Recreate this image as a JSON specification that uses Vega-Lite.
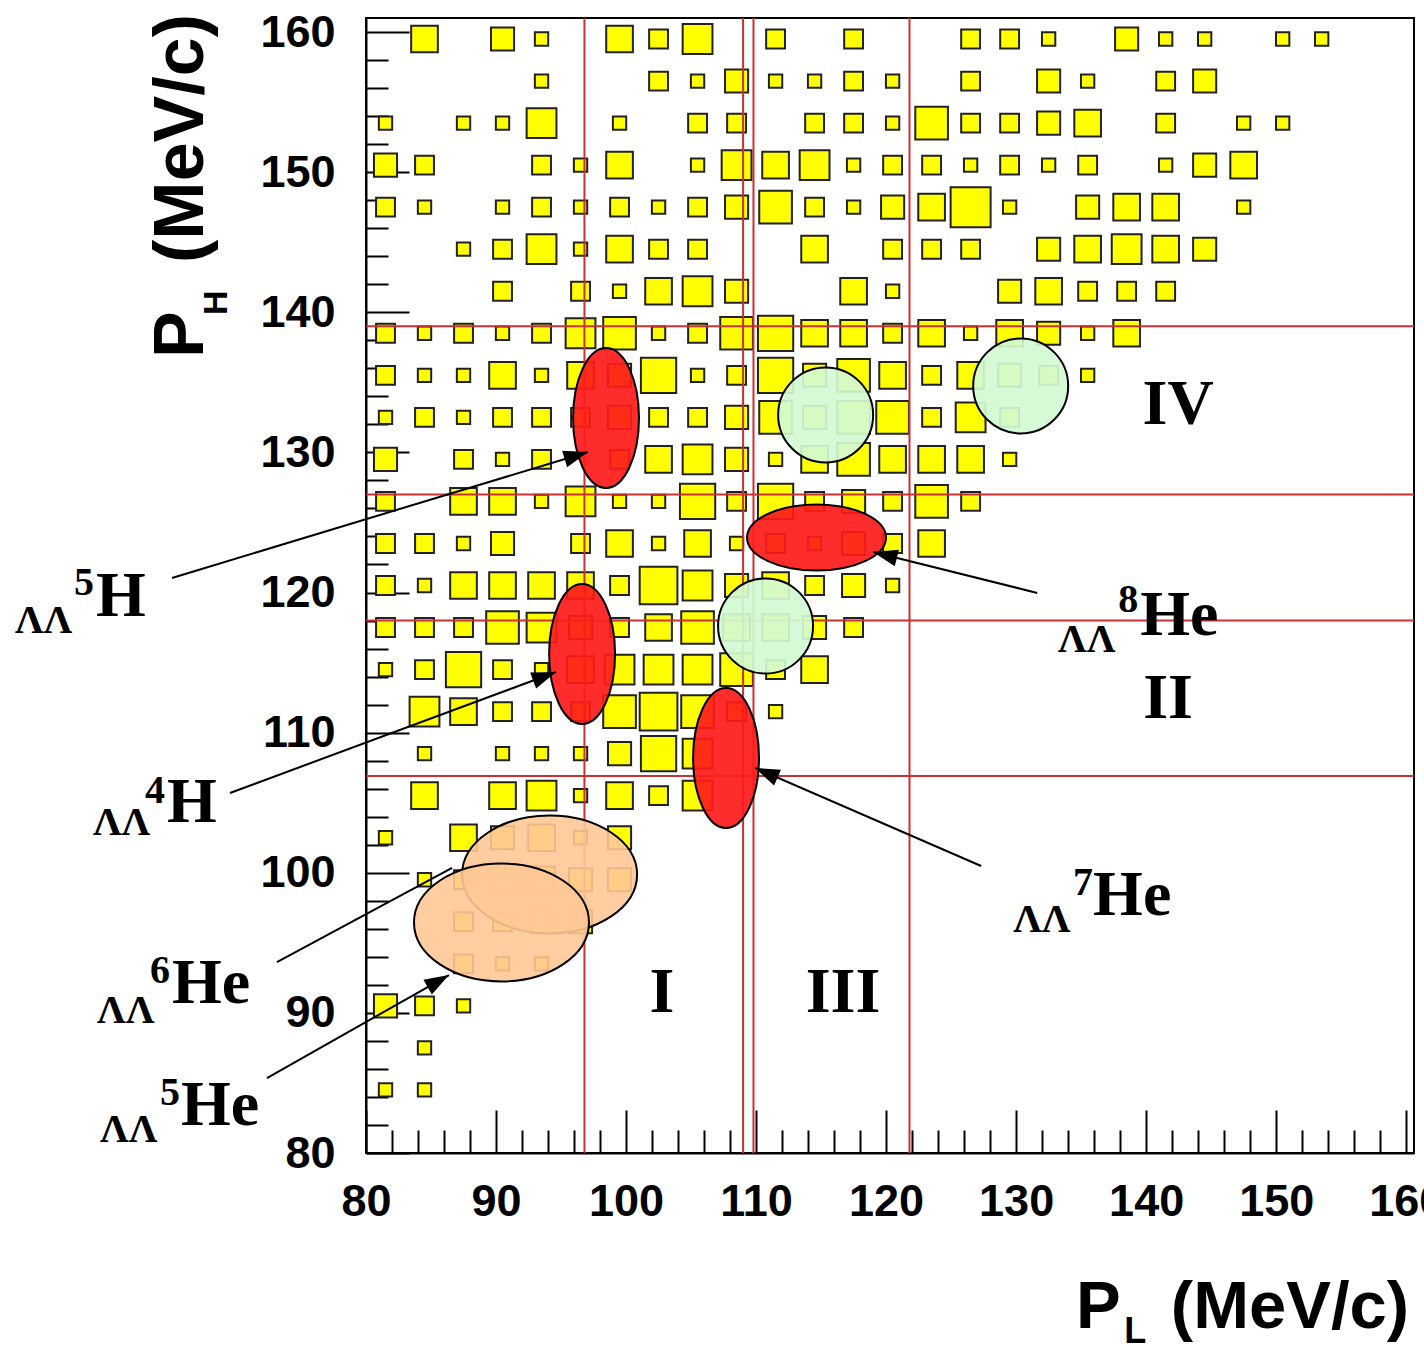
{
  "$schema": "https://vega.github.io/schema/vega-lite/v6.json",
  "width": 1048,
  "height": 1135,
  "autosize": {"type": "none"},
  "padding": {"left": 366, "top": 18, "right": 10, "bottom": 193},
  "background": "white",
  "config": {"view": {"stroke": "black", "strokeWidth": 2}, "font": "Liberation Sans"},
  "datasets": {
    "boxes": [
      {"x":84.5,"y":159.5,"n":4},{"x":90.5,"y":159.5,"n":3},{"x":93.5,"y":159.5,"n":1},{"x":99.5,"y":159.5,"n":4},{"x":102.5,"y":159.5,"n":2},{"x":105.5,"y":159.5,"n":5},{"x":111.5,"y":159.5,"n":2},{"x":117.5,"y":159.5,"n":2},{"x":126.5,"y":159.5,"n":2},{"x":129.5,"y":159.5,"n":2},{"x":132.5,"y":159.5,"n":1},{"x":138.5,"y":159.5,"n":3},{"x":141.5,"y":159.5,"n":1},{"x":144.5,"y":159.5,"n":1},{"x":150.5,"y":159.5,"n":1},{"x":153.5,"y":159.5,"n":1},
      {"x":93.5,"y":156.5,"n":1},{"x":102.5,"y":156.5,"n":2},{"x":105.5,"y":156.5,"n":1},{"x":108.5,"y":156.5,"n":3},{"x":111.5,"y":156.5,"n":1},{"x":114.5,"y":156.5,"n":1},{"x":117.5,"y":156.5,"n":2},{"x":120.5,"y":156.5,"n":1},{"x":126.5,"y":156.5,"n":2},{"x":132.5,"y":156.5,"n":3},{"x":135.5,"y":156.5,"n":1},{"x":141.5,"y":156.5,"n":2},{"x":144.5,"y":156.5,"n":3},
      {"x":81.5,"y":153.5,"n":1},{"x":87.5,"y":153.5,"n":1},{"x":90.5,"y":153.5,"n":1},{"x":93.5,"y":153.5,"n":5},{"x":99.5,"y":153.5,"n":1},{"x":105.5,"y":153.5,"n":2},{"x":108.5,"y":153.5,"n":2},{"x":114.5,"y":153.5,"n":2},{"x":117.5,"y":153.5,"n":2},{"x":120.5,"y":153.5,"n":1},{"x":123.5,"y":153.5,"n":6},{"x":126.5,"y":153.5,"n":2},{"x":129.5,"y":153.5,"n":2},{"x":132.5,"y":153.5,"n":3},{"x":135.5,"y":153.5,"n":4},{"x":141.5,"y":153.5,"n":2},{"x":147.5,"y":153.5,"n":1},{"x":150.5,"y":153.5,"n":1},
      {"x":81.5,"y":150.5,"n":3},{"x":84.5,"y":150.5,"n":2},{"x":93.5,"y":150.5,"n":2},{"x":96.5,"y":150.5,"n":1},{"x":99.5,"y":150.5,"n":4},{"x":105.5,"y":150.5,"n":1},{"x":108.5,"y":150.5,"n":5},{"x":111.5,"y":150.5,"n":4},{"x":114.5,"y":150.5,"n":5},{"x":117.5,"y":150.5,"n":1},{"x":120.5,"y":150.5,"n":2},{"x":123.5,"y":150.5,"n":2},{"x":126.5,"y":150.5,"n":1},{"x":129.5,"y":150.5,"n":2},{"x":132.5,"y":150.5,"n":1},{"x":135.5,"y":150.5,"n":2},{"x":141.5,"y":150.5,"n":1},{"x":144.5,"y":150.5,"n":3},{"x":147.5,"y":150.5,"n":4},
      {"x":81.5,"y":147.5,"n":2},{"x":84.5,"y":147.5,"n":1},{"x":90.5,"y":147.5,"n":1},{"x":93.5,"y":147.5,"n":2},{"x":96.5,"y":147.5,"n":1},{"x":99.5,"y":147.5,"n":2},{"x":102.5,"y":147.5,"n":1},{"x":105.5,"y":147.5,"n":2},{"x":108.5,"y":147.5,"n":3},{"x":111.5,"y":147.5,"n":6},{"x":114.5,"y":147.5,"n":2},{"x":117.5,"y":147.5,"n":1},{"x":120.5,"y":147.5,"n":3},{"x":123.5,"y":147.5,"n":4},{"x":126.5,"y":147.5,"n":9},{"x":129.5,"y":147.5,"n":1},{"x":135.5,"y":147.5,"n":3},{"x":138.5,"y":147.5,"n":4},{"x":141.5,"y":147.5,"n":4},{"x":147.5,"y":147.5,"n":1},
      {"x":87.5,"y":144.5,"n":1},{"x":90.5,"y":144.5,"n":2},{"x":93.5,"y":144.5,"n":5},{"x":96.5,"y":144.5,"n":1},{"x":99.5,"y":144.5,"n":4},{"x":102.5,"y":144.5,"n":2},{"x":105.5,"y":144.5,"n":2},{"x":114.5,"y":144.5,"n":4},{"x":120.5,"y":144.5,"n":2},{"x":123.5,"y":144.5,"n":2},{"x":126.5,"y":144.5,"n":2},{"x":132.5,"y":144.5,"n":3},{"x":135.5,"y":144.5,"n":4},{"x":138.5,"y":144.5,"n":5},{"x":141.5,"y":144.5,"n":4},{"x":144.5,"y":144.5,"n":3},
      {"x":90.5,"y":141.5,"n":2},{"x":96.5,"y":141.5,"n":2},{"x":99.5,"y":141.5,"n":1},{"x":102.5,"y":141.5,"n":4},{"x":105.5,"y":141.5,"n":5},{"x":108.5,"y":141.5,"n":3},{"x":117.5,"y":141.5,"n":4},{"x":120.5,"y":141.5,"n":1},{"x":129.5,"y":141.5,"n":3},{"x":132.5,"y":141.5,"n":4},{"x":135.5,"y":141.5,"n":2},{"x":138.5,"y":141.5,"n":2},{"x":141.5,"y":141.5,"n":2},
      {"x":81.5,"y":138.5,"n":2},{"x":84.5,"y":138.5,"n":1},{"x":87.5,"y":138.5,"n":2},{"x":90.5,"y":138.5,"n":1},{"x":93.5,"y":138.5,"n":2},{"x":96.5,"y":138.5,"n":5},{"x":99.5,"y":138.5,"n":6},{"x":102.5,"y":138.5,"n":1},{"x":105.5,"y":138.5,"n":2},{"x":108.5,"y":138.5,"n":6},{"x":111.5,"y":138.5,"n":7},{"x":114.5,"y":138.5,"n":4},{"x":117.5,"y":138.5,"n":4},{"x":120.5,"y":138.5,"n":2},{"x":123.5,"y":138.5,"n":4},{"x":126.5,"y":138.5,"n":1},{"x":129.5,"y":138.5,"n":4},{"x":132.5,"y":138.5,"n":3},{"x":135.5,"y":138.5,"n":1},{"x":138.5,"y":138.5,"n":4},
      {"x":81.5,"y":135.5,"n":2},{"x":84.5,"y":135.5,"n":1},{"x":87.5,"y":135.5,"n":1},{"x":90.5,"y":135.5,"n":4},{"x":93.5,"y":135.5,"n":1},{"x":96.5,"y":135.5,"n":4},{"x":99.5,"y":135.5,"n":3},{"x":102.5,"y":135.5,"n":7},{"x":105.5,"y":135.5,"n":1},{"x":108.5,"y":135.5,"n":2},{"x":111.5,"y":135.5,"n":7},{"x":114.5,"y":135.5,"n":3},{"x":117.5,"y":135.5,"n":6},{"x":120.5,"y":135.5,"n":4},{"x":123.5,"y":135.5,"n":2},{"x":126.5,"y":135.5,"n":4},{"x":129.5,"y":135.5,"n":3},{"x":132.5,"y":135.5,"n":2},{"x":135.5,"y":135.5,"n":1},
      {"x":81.5,"y":132.5,"n":1},{"x":84.5,"y":132.5,"n":2},{"x":87.5,"y":132.5,"n":1},{"x":90.5,"y":132.5,"n":2},{"x":93.5,"y":132.5,"n":2},{"x":96.5,"y":132.5,"n":2},{"x":99.5,"y":132.5,"n":3},{"x":102.5,"y":132.5,"n":2},{"x":105.5,"y":132.5,"n":2},{"x":108.5,"y":132.5,"n":3},{"x":111.5,"y":132.5,"n":6},{"x":114.5,"y":132.5,"n":3},{"x":117.5,"y":132.5,"n":6},{"x":120.5,"y":132.5,"n":6},{"x":123.5,"y":132.5,"n":2},{"x":126.5,"y":132.5,"n":5},{"x":129.5,"y":132.5,"n":2},
      {"x":81.5,"y":129.5,"n":3},{"x":87.5,"y":129.5,"n":2},{"x":90.5,"y":129.5,"n":1},{"x":93.5,"y":129.5,"n":2},{"x":99.5,"y":129.5,"n":2},{"x":102.5,"y":129.5,"n":4},{"x":105.5,"y":129.5,"n":5},{"x":108.5,"y":129.5,"n":3},{"x":111.5,"y":129.5,"n":1},{"x":114.5,"y":129.5,"n":4},{"x":117.5,"y":129.5,"n":6},{"x":120.5,"y":129.5,"n":4},{"x":123.5,"y":129.5,"n":4},{"x":126.5,"y":129.5,"n":4},{"x":129.5,"y":129.5,"n":1},
      {"x":81.5,"y":126.5,"n":2},{"x":87.5,"y":126.5,"n":4},{"x":90.5,"y":126.5,"n":4},{"x":93.5,"y":126.5,"n":1},{"x":96.5,"y":126.5,"n":5},{"x":99.5,"y":126.5,"n":1},{"x":102.5,"y":126.5,"n":1},{"x":105.5,"y":126.5,"n":7},{"x":108.5,"y":126.5,"n":2},{"x":111.5,"y":126.5,"n":7},{"x":114.5,"y":126.5,"n":2},{"x":117.5,"y":126.5,"n":3},{"x":120.5,"y":126.5,"n":2},{"x":123.5,"y":126.5,"n":6},{"x":126.5,"y":126.5,"n":2},
      {"x":81.5,"y":123.5,"n":2},{"x":84.5,"y":123.5,"n":2},{"x":87.5,"y":123.5,"n":1},{"x":90.5,"y":123.5,"n":3},{"x":96.5,"y":123.5,"n":2},{"x":99.5,"y":123.5,"n":4},{"x":102.5,"y":123.5,"n":1},{"x":105.5,"y":123.5,"n":4},{"x":108.5,"y":123.5,"n":1},{"x":111.5,"y":123.5,"n":2},{"x":114.5,"y":123.5,"n":1},{"x":117.5,"y":123.5,"n":3},{"x":120.5,"y":123.5,"n":2},{"x":123.5,"y":123.5,"n":4},
      {"x":81.5,"y":120.5,"n":2},{"x":84.5,"y":120.5,"n":1},{"x":87.5,"y":120.5,"n":4},{"x":90.5,"y":120.5,"n":4},{"x":93.5,"y":120.5,"n":4},{"x":96.5,"y":120.5,"n":4},{"x":99.5,"y":120.5,"n":2},{"x":102.5,"y":120.5,"n":8},{"x":105.5,"y":120.5,"n":5},{"x":108.5,"y":120.5,"n":3},{"x":111.5,"y":120.5,"n":4},{"x":114.5,"y":120.5,"n":2},{"x":117.5,"y":120.5,"n":3},{"x":120.5,"y":120.5,"n":1},
      {"x":81.5,"y":117.5,"n":2},{"x":84.5,"y":117.5,"n":2},{"x":87.5,"y":117.5,"n":2},{"x":90.5,"y":117.5,"n":6},{"x":93.5,"y":117.5,"n":5},{"x":96.5,"y":117.5,"n":3},{"x":99.5,"y":117.5,"n":2},{"x":102.5,"y":117.5,"n":4},{"x":105.5,"y":117.5,"n":6},{"x":108.5,"y":117.5,"n":4},{"x":111.5,"y":117.5,"n":4},{"x":114.5,"y":117.5,"n":3},{"x":117.5,"y":117.5,"n":2},
      {"x":81.5,"y":114.5,"n":1},{"x":84.5,"y":114.5,"n":2},{"x":87.5,"y":114.5,"n":7},{"x":90.5,"y":114.5,"n":2},{"x":93.5,"y":114.5,"n":1},{"x":96.5,"y":114.5,"n":4},{"x":99.5,"y":114.5,"n":5},{"x":102.5,"y":114.5,"n":5},{"x":105.5,"y":114.5,"n":5},{"x":108.5,"y":114.5,"n":6},{"x":111.5,"y":114.5,"n":2},{"x":114.5,"y":114.5,"n":4},
      {"x":84.5,"y":111.5,"n":5},{"x":87.5,"y":111.5,"n":4},{"x":90.5,"y":111.5,"n":2},{"x":93.5,"y":111.5,"n":2},{"x":96.5,"y":111.5,"n":2},{"x":99.5,"y":111.5,"n":6},{"x":102.5,"y":111.5,"n":8},{"x":105.5,"y":111.5,"n":6},{"x":108.5,"y":111.5,"n":2},{"x":111.5,"y":111.5,"n":1},
      {"x":84.5,"y":108.5,"n":1},{"x":90.5,"y":108.5,"n":1},{"x":93.5,"y":108.5,"n":1},{"x":96.5,"y":108.5,"n":1},{"x":99.5,"y":108.5,"n":3},{"x":102.5,"y":108.5,"n":7},{"x":105.5,"y":108.5,"n":5},
      {"x":84.5,"y":105.5,"n":4},{"x":90.5,"y":105.5,"n":4},{"x":93.5,"y":105.5,"n":5},{"x":96.5,"y":105.5,"n":1},{"x":99.5,"y":105.5,"n":4},{"x":102.5,"y":105.5,"n":2},{"x":105.5,"y":105.5,"n":5},
      {"x":81.5,"y":102.5,"n":1},{"x":87.5,"y":102.5,"n":4},{"x":90.5,"y":102.5,"n":3},{"x":93.5,"y":102.5,"n":4},{"x":96.5,"y":102.5,"n":1},{"x":99.5,"y":102.5,"n":3},
      {"x":84.5,"y":99.5,"n":1},{"x":87.5,"y":99.5,"n":2},{"x":90.5,"y":99.5,"n":3},{"x":93.5,"y":99.5,"n":4},{"x":96.5,"y":99.5,"n":3},{"x":99.5,"y":99.5,"n":3},
      {"x":87.5,"y":96.5,"n":2},{"x":90.5,"y":96.5,"n":2},{"x":93.5,"y":96.5,"n":3},{"x":96.5,"y":96.5,"n":3},
      {"x":87.5,"y":93.5,"n":2},{"x":90.5,"y":93.5,"n":1},{"x":93.5,"y":93.5,"n":1},
      {"x":81.5,"y":90.5,"n":3},{"x":84.5,"y":90.5,"n":2},{"x":87.5,"y":90.5,"n":1},
      {"x":84.5,"y":87.5,"n":1},
      {"x":81.5,"y":84.5,"n":1},{"x":84.5,"y":84.5,"n":1}
    ],
    "cuts": [
      {"x":96.8,"y":80,"x2":96.8,"y2":161},
      {"x":109.0,"y":80,"x2":109.0,"y2":161},
      {"x":109.8,"y":80,"x2":109.8,"y2":161},
      {"x":121.8,"y":80,"x2":121.8,"y2":161},
      {"x":80,"y":139.0,"x2":160.6,"y2":139.0},
      {"x":80,"y":127.0,"x2":160.6,"y2":127.0},
      {"x":80,"y":118.0,"x2":160.6,"y2":118.0},
      {"x":80,"y":106.9,"x2":160.6,"y2":106.9}
    ],
    "orange": [{"x":94.12,"y":99.88},{"x":90.42,"y":96.45}],
    "redV": [{"x":98.46,"y":132.45},{"x":96.62,"y":115.61},{"x":107.69,"y":108.19}],
    "redH": [{"x":114.65,"y":123.93}],
    "green": [{"x":115.35,"y":132.67},{"x":110.73,"y":117.61},{"x":130.35,"y":134.74}],
    "arrows": [
      {"x":65.08,"y":121.04,"x2":97.08,"y2":130.03},
      {"x":69.54,"y":105.69,"x2":94.62,"y2":114.33},
      {"x":73.15,"y":93.63,"x2":86.62,"y2":100.34},
      {"x":72.38,"y":85.35,"x2":86.38,"y2":92.7},
      {"x":131.62,"y":119.97,"x2":119.0,"y2":122.89},
      {"x":127.31,"y":100.48,"x2":109.92,"y2":107.48}
    ],
    "lambda": [
      {"x":53.0,"y":117.11,"t":"ΛΛ"},
      {"x":59.0,"y":102.69,"t":"ΛΛ"},
      {"x":59.31,"y":89.28,"t":"ΛΛ"},
      {"x":59.54,"y":80.79,"t":"ΛΛ"},
      {"x":133.23,"y":115.76,"t":"ΛΛ"},
      {"x":129.77,"y":95.77,"t":"ΛΛ"}
    ],
    "sup": [
      {"x":57.54,"y":119.82,"t":"5"},
      {"x":63.0,"y":104.98,"t":"4"},
      {"x":63.38,"y":92.13,"t":"6"},
      {"x":64.15,"y":83.43,"t":"5"},
      {"x":137.85,"y":118.61,"t":"8"},
      {"x":134.38,"y":98.41,"t":"7"}
    ],
    "nucl": [
      {"x":59.23,"y":118.32,"t":"H"},
      {"x":64.69,"y":103.62,"t":"H"},
      {"x":65.08,"y":90.71,"t":"He"},
      {"x":65.77,"y":82.0,"t":"He"},
      {"x":139.54,"y":116.97,"t":"He"},
      {"x":135.92,"y":96.99,"t":"He"}
    ],
    "regions": [
      {"x":102.77,"y":90.06,"t":"I"},
      {"x":116.69,"y":90.06,"t":"III"},
      {"x":141.69,"y":111.04,"t":"II"},
      {"x":142.46,"y":132.03,"t":"IV"}
    ],
    "ytitle": [{"x":67.46,"y":136.74,"t":"P"},{"x":67.46,"y":143.52,"t":"(MeV/c)"}],
    "ytitlesub": [{"x":69.31,"y":139.81,"t":"H"}],
    "xtitle": [{"x":134.6,"y":67.51,"t":"P"},{"x":141.9,"y":67.51,"t":"(MeV/c)"}],
    "xtitlesub": [{"x":138.31,"y":66.44,"t":"L"}]
  },
  "encoding": {
    "x": {
      "field": "x", "type": "quantitative", "title": null,
      "scale": {"domain": [80, 160.6], "nice": false, "zero": false},
      "axis": {
        "values": [80,82,84,86,88,90,92,94,96,98,100,102,104,106,108,110,112,114,116,118,120,122,124,126,128,130,132,134,136,138,140,142,144,146,148,150,152,154,156,158,160],
        "labelExpr": "datum.value % 10 === 0 ? datum.label : ''",
        "tickSize": {"condition": {"test": "datum.value % 10 === 0", "value": -43}, "value": -23},
        "tickColor": "black", "tickWidth": 2,
        "domainColor": "black", "domainWidth": 2,
        "labelFont": "Liberation Sans", "labelFontWeight": "bold", "labelFontSize": 45, "labelColor": "black",
        "labelPadding": 69, "labelFlush": false, "labelOverlap": false, "labelBound": false, "grid": false
      }
    },
    "y": {
      "field": "y", "type": "quantitative", "title": null,
      "scale": {"domain": [80, 161], "nice": false, "zero": false},
      "axis": {
        "values": [80,82,84,86,88,90,92,94,96,98,100,102,104,106,108,110,112,114,116,118,120,122,124,126,128,130,132,134,136,138,140,142,144,146,148,150,152,154,156,158,160],
        "labelExpr": "datum.value % 10 === 0 ? datum.label : ''",
        "tickSize": {"condition": {"test": "datum.value % 10 === 0", "value": -43}, "value": -22},
        "tickColor": "black", "tickWidth": 2,
        "domainColor": "black", "domainWidth": 2,
        "labelFont": "Liberation Sans", "labelFontWeight": "bold", "labelFontSize": 45, "labelColor": "black",
        "labelPadding": 74, "labelFlush": false, "labelOverlap": false, "labelBound": false, "grid": false
      }
    }
  },
  "layer": [
    {
      "data": {"name": "boxes"},
      "mark": {"type": "point", "shape": "square", "filled": true, "fill": "#ffff00", "stroke": "#222222", "strokeWidth": 2, "opacity": 1},
      "encoding": {
        "size": {"field": "n", "type": "quantitative", "scale": {"domain": [0, 9], "range": [0, 1600]}, "legend": null}
      }
    },
    {
      "data": {"name": "cuts"},
      "mark": {"type": "rule", "color": "#c83232", "strokeWidth": 2},
      "encoding": {"x2": {"field": "x2"}, "y2": {"field": "y2"}}
    },
    {
      "data": {"name": "orange"},
      "mark": {"type": "point", "shape": "M -1 0 A 1 0.674 0 1 1 1 0 A 1 0.674 0 1 1 -1 0 Z", "size": 30625, "filled": true, "fill": "#ffc896", "fillOpacity": 0.9, "stroke": "black", "strokeWidth": 2, "strokeOpacity": 1},
      "encoding": {}
    },
    {
      "data": {"name": "redV"},
      "mark": {"type": "point", "shape": "M 0 -1 A 0.471 1 0 1 1 0 1 A 0.471 1 0 1 1 0 -1 Z", "size": 19600, "filled": true, "fill": "#ff1a1a", "fillOpacity": 0.92, "stroke": "black", "strokeWidth": 2, "strokeOpacity": 1},
      "encoding": {}
    },
    {
      "data": {"name": "redH"},
      "mark": {"type": "point", "shape": "M -1 0 A 1 0.475 0 1 1 1 0 A 1 0.475 0 1 1 -1 0 Z", "size": 19321, "filled": true, "fill": "#ff1a1a", "fillOpacity": 0.92, "stroke": "black", "strokeWidth": 2, "strokeOpacity": 1},
      "encoding": {}
    },
    {
      "data": {"name": "green"},
      "mark": {"type": "point", "shape": "M -1 0 A 1 1 0 1 1 1 0 A 1 1 0 1 1 -1 0 Z", "size": 9025, "filled": true, "fill": "#d2fad2", "fillOpacity": 0.92, "stroke": "black", "strokeWidth": 2, "strokeOpacity": 1},
      "encoding": {}
    },
    {
      "data": {"name": "arrows"},
      "mark": {"type": "rule", "color": "black", "strokeWidth": 2},
      "encoding": {"x2": {"field": "x2"}, "y2": {"field": "y2"}}
    },
    {
      "data": {"values": [{"x": 97.08, "y": 130.03}]},
      "mark": {"type": "point", "shape": "M 0 0 L -2 -0.7 L -2 0.7 Z", "size": 600, "filled": true, "fill": "black", "opacity": 1, "angle": -16.85},
      "encoding": {}
    },
    {
      "data": {"values": [{"x": 94.62, "y": 114.33}]},
      "mark": {"type": "point", "shape": "M 0 0 L -2 -0.7 L -2 0.7 Z", "size": 600, "filled": true, "fill": "black", "opacity": 1, "angle": -20.36},
      "encoding": {}
    },
    {
      "data": {"values": [{"x": 86.38, "y": 92.7}]},
      "mark": {"type": "point", "shape": "M 0 0 L -2 -0.7 L -2 0.7 Z", "size": 600, "filled": true, "fill": "black", "opacity": 1, "angle": -29.5},
      "encoding": {}
    },
    {
      "data": {"values": [{"x": 119.0, "y": 122.89}]},
      "mark": {"type": "point", "shape": "M 0 0 L -2 -0.7 L -2 0.7 Z", "size": 600, "filled": true, "fill": "black", "opacity": 1, "angle": 194.04},
      "encoding": {}
    },
    {
      "data": {"values": [{"x": 109.92, "y": 107.48}]},
      "mark": {"type": "point", "shape": "M 0 0 L -2 -0.7 L -2 0.7 Z", "size": 600, "filled": true, "fill": "black", "opacity": 1, "angle": 203.45},
      "encoding": {}
    },
    {
      "data": {"name": "lambda"},
      "mark": {"type": "text", "font": "Liberation Serif", "fontWeight": "bold", "fontSize": 40, "align": "left", "baseline": "alphabetic", "color": "black"},
      "encoding": {"text": {"field": "t"}}
    },
    {
      "data": {"name": "sup"},
      "mark": {"type": "text", "font": "Liberation Serif", "fontWeight": "bold", "fontSize": 40, "align": "left", "baseline": "alphabetic", "color": "black"},
      "encoding": {"text": {"field": "t"}}
    },
    {
      "data": {"name": "nucl"},
      "mark": {"type": "text", "font": "Liberation Serif", "fontWeight": "bold", "fontSize": 64, "align": "left", "baseline": "alphabetic", "color": "black"},
      "encoding": {"text": {"field": "t"}}
    },
    {
      "data": {"name": "regions"},
      "mark": {"type": "text", "font": "Liberation Serif", "fontWeight": "bold", "fontSize": 64, "align": "center", "baseline": "alphabetic", "color": "black"},
      "encoding": {"text": {"field": "t"}}
    },
    {
      "data": {"name": "ytitle"},
      "mark": {"type": "text", "font": "Liberation Sans", "fontWeight": "bold", "fontSize": 70, "align": "left", "baseline": "alphabetic", "angle": 270, "color": "black"},
      "encoding": {"text": {"field": "t"}}
    },
    {
      "data": {"name": "ytitlesub"},
      "mark": {"type": "text", "font": "Liberation Sans", "fontWeight": "bold", "fontSize": 34, "align": "left", "baseline": "alphabetic", "angle": 270, "color": "black"},
      "encoding": {"text": {"field": "t"}}
    },
    {
      "data": {"name": "xtitle"},
      "mark": {"type": "text", "font": "Liberation Sans", "fontWeight": "bold", "fontSize": 67, "align": "left", "baseline": "alphabetic", "color": "black"},
      "encoding": {"text": {"field": "t"}}
    },
    {
      "data": {"name": "xtitlesub"},
      "mark": {"type": "text", "font": "Liberation Sans", "fontWeight": "bold", "fontSize": 36, "align": "left", "baseline": "alphabetic", "color": "black"},
      "encoding": {"text": {"field": "t"}}
    }
  ]
}
